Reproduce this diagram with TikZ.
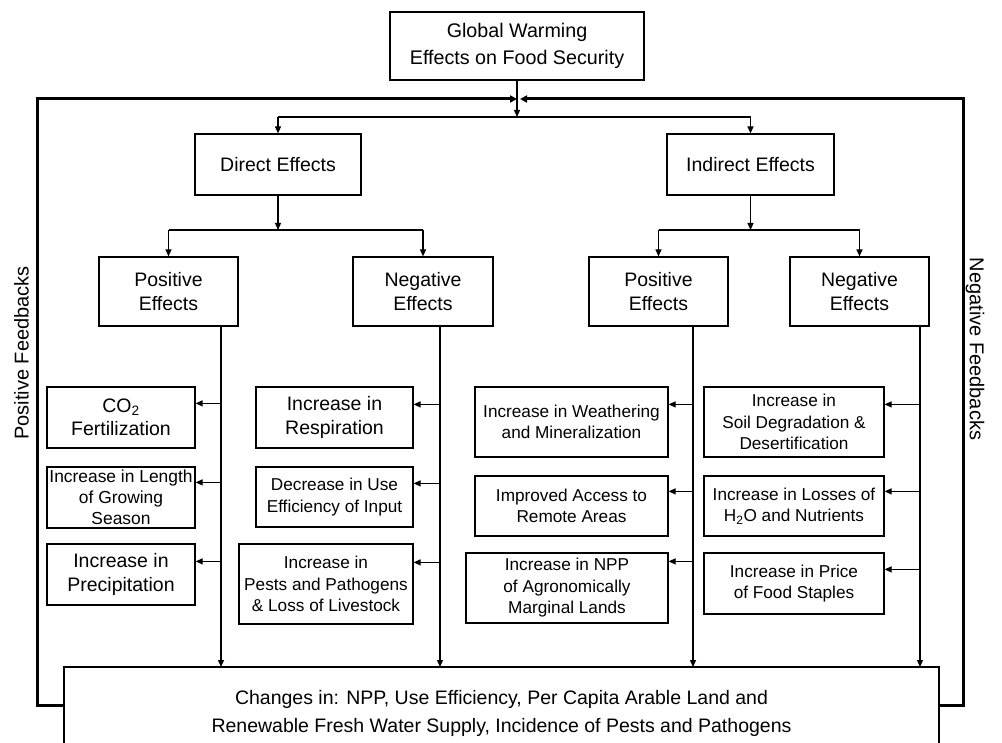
\documentclass[tikz,border=0pt]{standalone}
\usepackage{fontspec}
\setmainfont{Liberation Sans}
\usetikzlibrary{arrows.meta}
\begin{document}
\begin{tikzpicture}[x=1pt,y=-1pt,
  box/.style={draw, line width=1.2pt, inner sep=0pt, align=center},
  fa/.style={font=\fontsize{19.5}{23.5}\selectfont},
  fb/.style={font=\fontsize{17.2}{21.5}\selectfont},
  conn/.style={line width=1.2pt},
  arr/.style={conn, -{Triangle[length=7pt,width=6pt]}},
  fbk/.style={line width=3pt, -{Triangle[length=7pt,width=7pt]}},
  side/.style={font=\fontsize{20}{24}\selectfont}]
\useasboundingbox (0,0) rectangle (1002,743);
\clip (0,0) rectangle (1002,743);
% top level
\node[box, minimum width=254pt, minimum height=68pt, font=\fontsize{19.7}{27}\selectfont] (top) at (517,46) {Global Warming\\Effects on Food Security};
\node[box, fa, minimum width=166pt, minimum height=61pt] (direct) at (278,164.5) {Direct Effects};
\node[box, fa, minimum width=167pt, minimum height=61pt] (indirect) at (750.5,164.5) {Indirect Effects};
\node[box, fa, minimum width=139pt, minimum height=69pt] (dpos) at (168.5,291.5) {Positive\\Effects};
\node[box, fa, minimum width=140pt, minimum height=69pt] (dneg) at (423,291.5) {Negative\\Effects};
\node[box, fa, minimum width=139pt, minimum height=69pt] (ipos) at (658.5,291.5) {Positive\\Effects};
\node[box, fa, minimum width=139pt, minimum height=69pt] (ineg) at (859.5,291.5) {Negative\\Effects};
% leaves column 1
\node[box, fa, minimum width=148pt, minimum height=61pt] (co2) at (121,417.5) {CO\textsubscript{2}\\Fertilization};
\node[box, font=\fontsize{17.4}{21}\selectfont, minimum width=148pt, minimum height=61pt] (grow) at (121,497.5) {Increase in Length\\of Growing\\Season};
\node[box, fa, minimum width=148pt, minimum height=61pt] (prec) at (121,574.5) {Increase in\\Precipitation};
% column 2
\node[box, fa, minimum width=157pt, minimum height=61pt] (resp) at (334.5,417.5) {Increase in\\Respiration};
\node[box, fb, minimum width=157pt, minimum height=60pt] (eff) at (334.5,497) {Decrease in Use\\Efficiency of Input};
\node[box, fb, minimum width=174pt, minimum height=80pt] (pests) at (326,584) {Increase in\\Pests and Pathogens\\\& Loss of Livestock};
% column 3
\node[box, fb, minimum width=193pt, minimum height=70pt] (weath) at (571.5,422) {Increase in Weathering\\and Mineralization};
\node[box, fb, minimum width=193pt, minimum height=60pt] (access) at (571.5,506) {Improved Access to\\Remote Areas};
\node[box, fb, minimum width=202pt, minimum height=70pt] (npp) at (567,588) {Increase in NPP\\of Agronomically\\Marginal Lands};
% column 4
\node[box, fb, minimum width=180pt, minimum height=70pt] (soil) at (794,422) {Increase in\\Soil Degradation \&\\Desertification};
\node[box, fb, minimum width=180pt, minimum height=60pt] (loss) at (794,506) {Increase in Losses of\\H\textsubscript{2}O and Nutrients};
\node[box, fb, minimum width=180pt, minimum height=61pt] (price) at (794,583.5) {Increase in Price\\of Food Staples};
% bottom box
\node[box, minimum width=875pt, minimum height=113pt] (changes) at (501.5,723.5) {};
\node[font=\fontsize{19.5}{28}\selectfont, align=center] (changestext) at (501.5,713) {Changes in: NPP, Use Efficiency, Per Capita Arable Land and\\Renewable Fresh Water Supply, Incidence of Pests and Pathogens};
% side labels
\node[side, rotate=90] (posfb) at (21.5,353) {Positive Feedbacks};
\node[side, rotate=-90] (negfb) at (975,349) {Negative Feedbacks};
% coordinates
\coordinate (split0) at (517,117);
\coordinate (split1) at (278,230);
\coordinate (split2) at (750.5,230);
\coordinate (t1) at (221,667);
\coordinate (t2) at (440,667);
\coordinate (t3) at (693,667);
\coordinate (t4) at (920,667);
\coordinate (hub) at (518.5,99);
\coordinate (fbY) at (0,705);
\coordinate (fbL) at (37,99);
\coordinate (fbR) at (963,99);
% tree connectors
\draw[arr] (top.south) -- (split0);
\draw[conn] (direct.north |- split0) -- (indirect.north |- split0);
\draw[arr] (direct.north |- split0) -- (direct.north);
\draw[arr] (indirect.north |- split0) -- (indirect.north);
\draw[arr] (direct.south) -- (split1);
\draw[conn] (dpos.north |- split1) -- (dneg.north |- split1);
\draw[arr] (dpos.north |- split1) -- (dpos.north);
\draw[arr] (dneg.north |- split1) -- (dneg.north);
\draw[arr] (indirect.south) -- (split2);
\draw[conn] (ipos.north |- split2) -- (ineg.north |- split2);
\draw[arr] (ipos.north |- split2) -- (ipos.north);
\draw[arr] (ineg.north |- split2) -- (ineg.north);
% verticals to bottom box
\draw[arr] (t1 |- dpos.south) -- (t1);
\draw[arr] (t2 |- dneg.south) -- (t2);
\draw[arr] (t3 |- ipos.south) -- (t3);
\draw[arr] (t4 |- ineg.south) -- (t4);
% leaf arrows
\foreach \leaf/\t/\d in {co2/t1/17, grow/t1/16, prec/t1/18, resp/t2/18, eff/t2/17, pests/t2/19,
  weath/t3/18, access/t3/16, npp/t3/9, soil/t4/18, loss/t4/16, price/t4/17}{
  \path (\leaf.north east) ++(0,\d) coordinate (la);
  \draw[arr] (la -| \t) -- (la);
}
% feedback frame
\draw[fbk] (changes.west |- fbY) -| (fbL) -- ([xshift=-1.5pt]hub);
\draw[fbk] (changes.east |- fbY) -| (fbR) -- ([xshift=1.5pt]hub);
\end{tikzpicture}
\end{document}
